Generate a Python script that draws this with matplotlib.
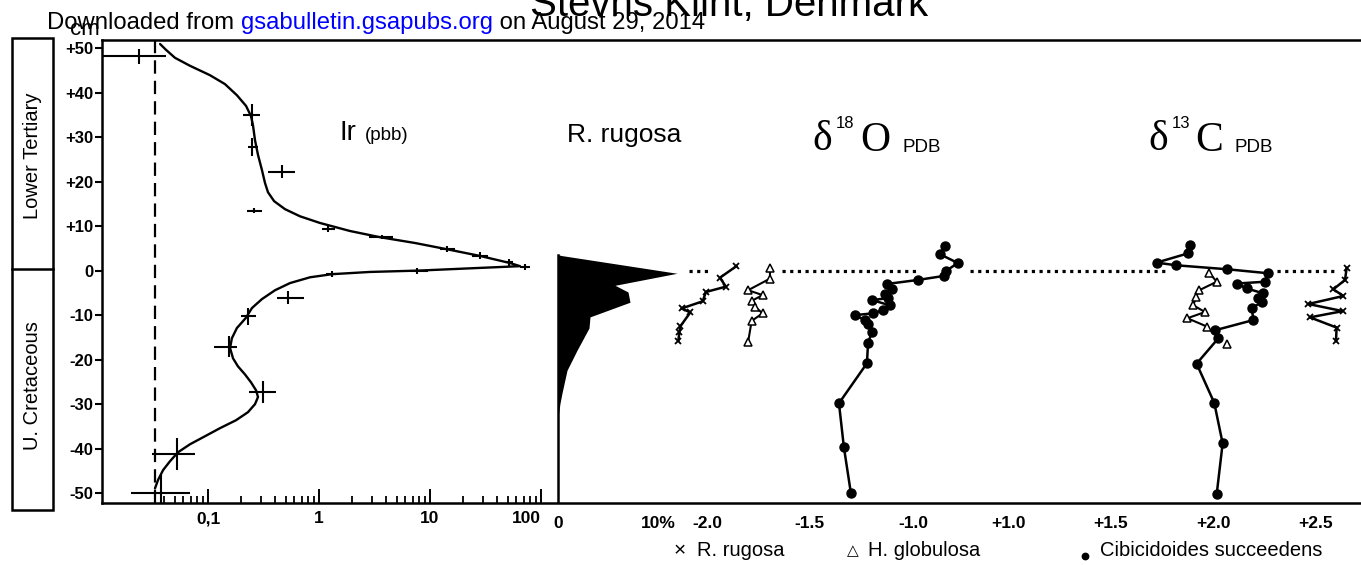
import numpy as np
import matplotlib
matplotlib.use("Agg")
import matplotlib.pyplot as plt
from matplotlib.ticker import FixedLocator, FixedFormatter, NullFormatter
from matplotlib.patches import Rectangle
from matplotlib.lines import Line2D

plt.rcParams['font.family'] = ['Liberation Sans', 'DejaVu Sans']

# ---------------- data ----------------
depth_ticks = [-50, -40, -30, -20, -10, 0, 10, 20, 30, 40, 50]
depth_labels = ["-50", "-40", "-30", "-20", "-10", "0", "+10", "+20", "+30", "+40", "+50"]

# Iridium (ppb) measurements with error bars
Ir_depth = [48.1, 35.0, 27.7, 22.2, 13.5, 9.3, 7.5, 4.8, 3.3, 1.9, 0.8, -0.1, -0.8,
            -6.1, -10.3, -17.1, -27.3, -41.2, -50.0]
Ir_value = [0.024, 0.25, 0.25, 0.465, 0.26, 1.2, 3.7, 14.2, 28, 51, 71, 7.6, 1.30,
            0.53, 0.23, 0.156, 0.316, 0.053, 0.038]
Ir_low = [0.0093, 0.207, 0.23, 0.347, 0.224, 1.06, 2.83, 12.3, 23.9, 47, 64, 6.6, 1.15,
          0.42, 0.20, 0.114, 0.235, 0.0316, 0.0203]
Ir_high = [0.042, 0.294, 0.28, 0.61, 0.306, 1.39, 4.6, 16.9, 33.3, 56, 80, 9.6, 1.45,
           0.73, 0.27, 0.181, 0.41, 0.077, 0.069]
Ir_dz = [1.7, 2.5, 2.0, 1.5, 0.5, 0.7, 0.5, 0.7, 0.8, 0.8, 0.6, 0.6, 0.6,
         1.5, 2.0, 2.3, 2.5, 3.5, 4.0]
# hand-drawn Ir trend curve
Ir_curve_value = [0.037, 0.0418, 0.0504, 0.0689, 0.104, 0.142, 0.182, 0.220, 0.244, 0.254,
                  0.265, 0.282, 0.306, 0.326, 0.347, 0.394, 0.494, 0.674, 1.02, 1.90,
                  3.55, 7.33, 14.2, 28.2, 52.6, 64.7, 7.8, 2.88, 1.31, 0.83,
                  0.548, 0.402, 0.306, 0.249, 0.218, 0.182, 0.164, 0.158, 0.168, 0.186,
                  0.215, 0.244, 0.271, 0.282, 0.265, 0.229, 0.179, 0.128, 0.094, 0.0689,
                  0.0537, 0.0455, 0.0394, 0.0355, 0.0333]
Ir_curve_depth = [50.9, 49.6, 47.8, 46.0, 43.9, 41.9, 39.4, 37.0, 34.7, 32.7,
                  29.3, 26.0, 22.6, 19.7, 17.6, 15.6, 13.8, 12.2, 10.7, 8.9,
                  7.5, 6.2, 4.8, 3.3, 1.7, 1.0, 0.0, -0.3, -0.8, -1.5,
                  -2.8, -4.4, -6.4, -8.4, -10.7, -12.9, -15.2, -17.4, -19.7, -21.5,
                  -23.3, -25.1, -26.9, -28.4, -30.0, -31.8, -33.6, -35.4, -37.2, -39.0,
                  -40.8, -42.8, -44.8, -47.0, -48.9]
Ir_detection = 0.033
Ir_ticks = [0.1, 1, 10, 100]
Ir_ticklabels = ["0,1", "1", "10", "100"]

# R. rugosa abundance (%)
Rr_depth = [3.6, 3.4, -0.6, -3.3, -4.8, -7.1, -10.4, -12.9, -17.9, -22.4, -27.5, -29.8, -33.0]
Rr_pct = [0.0, 0.3, 11.9, 5.7, 7.0, 7.2, 3.2, 3.1, 1.9, 0.9, 0.4, 0.2, 0.0]
Rr_ticks = [0, 10]
Rr_ticklabels = ["0", "10%"]

# delta 18O
O_ticks = [-2.0, -1.5, -1.0]
O_ticklabels = ["-2.0", "-1.5", "-1.0"]
Cib_O_depth = [5.5, 3.7, 1.7, -0.1, -1.2, -2.1, -3.0, -4.2, -5.3, -6.2, -6.6, -7.8,
               -8.9, -9.6, -10.0, -11.1, -12.0, -13.8, -16.3, -20.8, -29.8, -39.7, -50.0]
Cib_O_value = [-0.845, -0.869, -0.782, -0.840, -0.850, -0.976, -1.126, -1.102, -1.136,
               -1.121, -1.199, -1.112, -1.146, -1.194, -1.282, -1.233, -1.218, -1.199,
               -1.218, -1.223, -1.359, -1.335, -1.301]
Hg_O_depth = [0.5, -1.8, -4.4, -5.5, -6.8, -8.1, -9.6, -11.3, -16.0]
Hg_O_value = [-1.694, -1.694, -1.800, -1.730, -1.783, -1.767, -1.730, -1.783, -1.800]
Rr_O_depth = [1.0, -1.6, -3.6, -4.8, -6.9, -8.5, -9.4, -12.5, -13.8, -15.8]
Rr_O_value = [-1.857, -1.937, -1.908, -2.005, -2.021, -2.123, -2.081, -2.129, -2.134, -2.139]

# delta 13C
C_ticks = [1.0, 1.5, 2.0, 2.5]
C_ticklabels = ["+1.0", "+1.5", "+2.0", "+2.5"]
Cib_C_depth = [5.7, 3.9, 1.8, 1.2, 0.3, -0.6, -2.5, -2.9, -4.0, -5.1, -6.2, -7.0,
               -8.5, -11.1, -13.4, -15.2, -20.9, -29.7, -38.8, -50.2]
Cib_C_value = [1.888, 1.880, 1.725, 1.820, 2.070, 2.270, 2.254, 2.116, 2.164, 2.245,
               2.221, 2.238, 2.189, 2.197, 2.010, 2.026, 1.920, 2.006, 2.047, 2.018]
Hg_C_depth = [-0.5, -2.5, -4.4, -5.9, -7.8, -9.3, -10.7, -12.6, -16.4]
Hg_C_value = [1.982, 2.018, 1.933, 1.917, 1.904, 1.961, 1.875, 1.972, 2.070]
Rr_C_depth = [0.6, -2.1, -4.2, -5.7, -7.5, -9.1, -10.5, -12.8, -15.8]
Rr_C_value = [2.652, 2.644, 2.587, 2.636, 2.465, 2.633, 2.473, 2.603, 2.600]

# K/T boundary (dotted), pieces in each panel's units
boundary_depth = 0.0
boundary_O = [(-2.085, -1.995), (-1.636, -0.98)]
boundary_C = [(0.815, 1.78), (2.31, 2.60)]

# ---------------- layout helpers ----------------
W, H = 1361, 565
fig = plt.figure(figsize=(W / 100, H / 100), dpi=100)


def fx(px):
    return px / W


def fy(py):
    return 1 - py / H


def box(x0, x1, y0=40, y1=503):
    return [fx(x0), fy(y1), fx(x1) - fx(x0), fy(y0) - fy(y1)]


YLIM = (-52.2, 51.8)

# frame axes with depth scale
ax0 = fig.add_axes(box(102, 1361))
ax0.set_ylim(*YLIM)
ax0.set_xlim(0, 1)
ax0.spines['right'].set_visible(False)
for s in ['top', 'left', 'bottom']:
    ax0.spines[s].set_linewidth(1.8)
ax0.set_xticks([])
ax0.yaxis.set_major_locator(FixedLocator(depth_ticks))
ax0.yaxis.set_major_formatter(FixedFormatter(depth_labels))
ax0.tick_params(axis='y', direction='out', length=5, width=1.5, pad=1, labelsize=12)
for lab in ax0.get_yticklabels():
    lab.set_fontweight('bold')
ax0.patch.set_alpha(0)


def panel(x0, x1):
    ax = fig.add_axes(box(x0, x1))
    ax.set_ylim(*YLIM)
    for s in ax.spines.values():
        s.set_visible(False)
    ax.patch.set_alpha(0)
    ax.set_yticks([])
    return ax


# ---- Ir panel ----
axIr = panel(102, 557)
axIr.set_xscale('log')
axIr.set_xlim(0.01109, 139.3)
axIr.xaxis.set_major_locator(FixedLocator(Ir_ticks))
axIr.xaxis.set_major_formatter(FixedFormatter(Ir_ticklabels))
minors = [m * d for d in (0.01, 0.1, 1, 10) for m in range(2, 10) if m * d >= 0.04]
axIr.xaxis.set_minor_locator(FixedLocator(minors))
axIr.xaxis.set_minor_formatter(NullFormatter())
axIr.tick_params(axis='x', which='major', direction='in', length=10, width=1.4,
                 labelsize=12.5, pad=6)
axIr.tick_params(axis='x', which='minor', direction='in', length=5, width=1.3)
labs = axIr.get_xticklabels()
for lab in labs:
    lab.set_fontweight('bold')
labs[-1].set_horizontalalignment('right')
axIr.axvline(Ir_detection, color='black', lw=1.6, dashes=(6, 3.2))
axIr.plot(Ir_curve_value, Ir_curve_depth, color='black', lw=1.7,
          solid_capstyle='round', solid_joinstyle='round')
xerr = [np.array(Ir_value) - np.array(Ir_low), np.array(Ir_high) - np.array(Ir_value)]
axIr.errorbar(Ir_value, Ir_depth, xerr=xerr, yerr=Ir_dz, fmt='none', ecolor='black',
              elinewidth=1.5, capsize=0)

# ---- R. rugosa abundance ----
axR = panel(557, 700)
axR.set_xlim(-0.1, 14.2)
axR.fill_betweenx(Rr_depth, 0, Rr_pct, color='black', lw=0)
axR.plot([0, 0], [YLIM[0], Rr_depth[0]], color='black', lw=1.8)
axR.xaxis.set_major_locator(FixedLocator(Rr_ticks))
axR.xaxis.set_major_formatter(FixedFormatter(Rr_ticklabels))
axR.tick_params(axis='x', length=0, labelsize=12.5, pad=9)
for lab in axR.get_xticklabels():
    lab.set_fontweight('bold')

# ---- delta 18O ----
axO = panel(660, 965)
axO.set_xlim(-2.228, -0.747)
for a, b in boundary_O:
    axO.plot([a, b], [boundary_depth, boundary_depth], color='black', lw=2.3,
             dashes=(1, 1.4), dash_capstyle='butt')
axO.plot(Rr_O_value, Rr_O_depth, color='black', lw=1.8, marker='x', ms=5, mew=1.3)
axO.plot(Hg_O_value, Hg_O_depth, color='black', lw=1.5, marker='^', ms=6,
         mfc='white', mec='black', mew=1.1)
axO.plot(Cib_O_value, Cib_O_depth, color='black', lw=1.8, marker='o', ms=6.5,
         mfc='black', mec='black', clip_on=False)
axO.xaxis.set_major_locator(FixedLocator(O_ticks))
axO.xaxis.set_major_formatter(FixedFormatter(O_ticklabels))
axO.tick_params(axis='x', length=0, labelsize=12.5, pad=9)
for lab in axO.get_xticklabels():
    lab.set_fontweight('bold')

# ---- delta 13C ----
axC = panel(965, 1361)
axC.set_xlim(0.790, 2.722)
for a, b in boundary_C:
    axC.plot([a, b], [boundary_depth, boundary_depth], color='black', lw=2.3,
             dashes=(1, 1.4), dash_capstyle='butt')
axC.plot(Hg_C_value[:-1], Hg_C_depth[:-1], color='black', lw=1.5)
axC.plot(Hg_C_value, Hg_C_depth, ls='none', marker='^', ms=6, mfc='white',
         mec='black', mew=1.1)
axC.plot(Cib_C_value, Cib_C_depth, color='black', lw=1.8, marker='o', ms=6.5,
         mfc='black', mec='black')
axC.plot(Rr_C_value, Rr_C_depth, color='black', lw=1.8, marker='x', ms=5, mew=1.3)
axC.xaxis.set_major_locator(FixedLocator(C_ticks))
axC.xaxis.set_major_formatter(FixedFormatter(C_ticklabels))
axC.tick_params(axis='x', length=0, labelsize=12.5, pad=9)
for lab in axC.get_xticklabels():
    lab.set_fontweight('bold')

# ---------------- texts ----------------
fig.text(fx(340), fy(140), "Ir", fontsize=20, ha='left', va='baseline')
fig.text(fx(365), fy(140), "(pbb)", fontsize=13.5, ha='left', va='baseline')
fig.text(fx(567), fy(142), "R. rugosa", fontsize=19, ha='left', va='baseline')

serif = ['Liberation Serif', 'DejaVu Serif']
fig.text(fx(812), fy(150), "\u03b4", fontsize=30, family=serif, va='baseline')
fig.text(fx(836), fy(128), "18", fontsize=12, va='baseline')
fig.text(fx(860), fy(151), "O", fontsize=30, family=serif, va='baseline')
fig.text(fx(902), fy(152), "PDB", fontsize=13.5, va='baseline')
fig.text(fx(1148), fy(150), "\u03b4", fontsize=30, family=serif, va='baseline')
fig.text(fx(1172), fy(128), "13", fontsize=12, va='baseline')
fig.text(fx(1195), fy(151), "C", fontsize=30, family=serif, va='baseline')
fig.text(fx(1234), fy(152), "PDB", fontsize=13.5, va='baseline')

# legend row
fig.text(fx(680), fy(551), "\u00d7", fontsize=15, ha='center', va='center')
fig.text(fx(697), fy(550), "R. rugosa", fontsize=14.5, ha='left', va='center')
fig.text(fx(853), fy(551), "\u25b3", fontsize=11, ha='center', va='center')
fig.text(fx(868), fy(550), "H. globulosa", fontsize=14.5, ha='left', va='center')
fig.add_artist(Line2D([fx(1085)], [fy(556)], transform=fig.transFigure, ls='none',
                      marker='o', ms=4.6, mfc='black', mec='black'))
fig.text(fx(1100), fy(550), "Cibicidoides succeedens", fontsize=14.5, ha='left', va='center')

# stratigraphic column
fig.add_artist(Rectangle((fx(12), fy(510)), fx(53) - fx(12), fy(38) - fy(510),
                         transform=fig.transFigure, fill=False, lw=1.8, ec='black'))
fig.add_artist(Line2D([fx(12), fx(53)], [fy(269), fy(269)], transform=fig.transFigure,
                      lw=1.8, color='black'))
fig.text(fx(33), fy(156), "Lower Tertiary", rotation=90, fontsize=14.5,
         ha='center', va='center')
fig.text(fx(33), fy(386), "U. Cretaceous", rotation=90, fontsize=14.5,
         ha='center', va='center')
fig.text(fx(70), fy(35), "cm", fontsize=16, ha='left', va='baseline')

# header
fig.text(fx(530), fy(16), "Stevns Klint, Denmark", fontsize=29, ha='left', va='baseline')
HS = 17.2
t1 = fig.text(fx(47), fy(29), "Downloaded from ", fontsize=HS, ha='left', va='baseline')
fig.canvas.draw()
r = fig.canvas.get_renderer()
bb = t1.get_window_extent(r)
t2 = fig.text(bb.x1 / W, fy(29), "gsabulletin.gsapubs.org", fontsize=HS, color='#0000ff',
              ha='left', va='baseline')
bb2 = t2.get_window_extent(r)
fig.text(bb2.x1 / W, fy(29), " on August 29, 2014", fontsize=HS, ha='left', va='baseline')

fig.savefig("out.png", dpi=100)
